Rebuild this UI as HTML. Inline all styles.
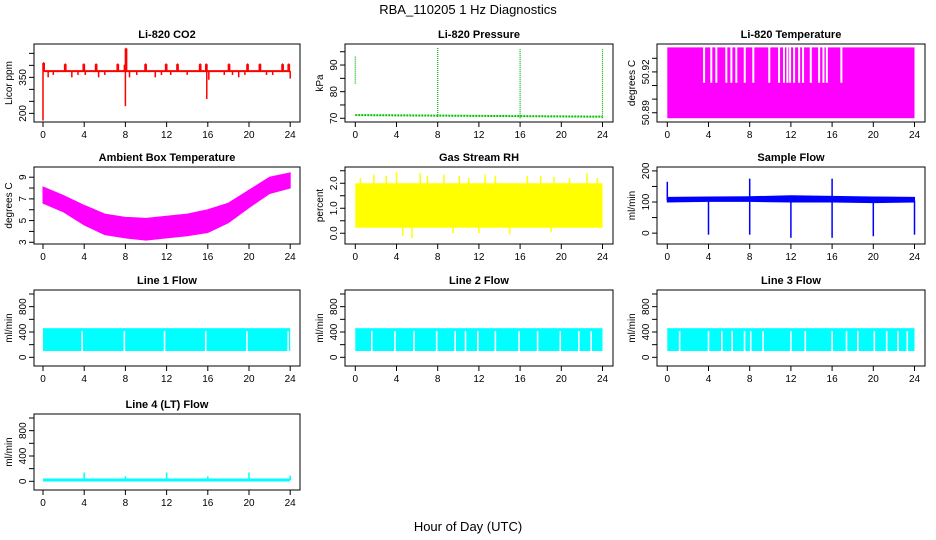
<!DOCTYPE html>
<html><head><meta charset="utf-8"><style>
body{margin:0;background:#fff}
svg{display:block;font-family:"Liberation Sans",sans-serif}
</style></head><body>
<svg id="c" width="936" height="540" viewBox="0 0 936 540">
<text x="468" y="14" text-anchor="middle" font-size="13">RBA_110205  1 Hz Diagnostics</text>
<text x="468" y="531" text-anchor="middle" font-size="13">Hour of Day (UTC)</text>
</svg>
<script>
const xTicks=[0,4,8,12,16,20,24];
const co2Ticks=[200,250,300,350,400,450];
const co2Labels=["200","","","350","",""];
const co2Base=376;
const co2Up=[[0,410],[2.1,405],[3.9,405],[5.1,405],[7.2,405],[7.9,402],[9.9,405],[11.9,405],[13.0,405],[15.2,405],[15.8,405],[18.0,405],[19.8,405],[21.0,405],[23.2,405],[23.8,405],[8,470]];
const co2Down=[[0,170],[0.5,350],[1.0,360],[2.8,350],[3.4,360],[4.1,360],[5.4,350],[6.0,360],[8.0,230],[8.4,350],[9.1,360],[10.9,350],[11.5,360],[12.4,360],[14.0,360],[15.9,260],[16.1,340],[17.6,360],[18.4,360],[19.0,350],[19.6,360],[21.7,360],[22.3,360],[24,345]];
const presTicks=[70,75,80,85,90,95];
const presLabels=["70","","80","","90",""];
const presHours=[0,4,8,12,16,20,24];
const presBase=[71.2,71.1,71.0,70.9,70.8,70.7,70.6];
const presSpikes=[[0,83,93.5],[8,70.5,96.5],[16,70,96],[24,70,96]];
const ltTicks=[50.89,50.90,50.91,50.92,50.93];
const ltLabels=["50.89","","","50.92",""];
const ltLow=50.886, ltHigh=50.938, ltGapLow=50.912;
const ltGaps=[3.57,4.27,4.76,5.73,6.22,6.7,7.52,8.35,9.9,10.85,11.33,11.66,11.92,12.31,12.8,13.18,13.93,14.74,15.16,15.49,16.9];
const ambTicks=[3,4,5,6,7,8,9];
const ambLabels=["3","","5","","7","","9"];
const ambHours=[0,2,4,6,8,10,12,14,16,18,20,22,24];
const ambLo=[6.6,5.8,4.6,3.7,3.4,3.2,3.4,3.6,3.9,4.8,6.2,7.5,8.0];
const ambHi=[8.1,7.3,6.4,5.6,5.3,5.2,5.4,5.6,6.0,6.6,7.8,9.0,9.4];
const rhTicks=[0,0.5,1,1.5,2,2.5];
const rhLabels=["0.0","","1.0","","2.0",""];
const rhLo=0.22, rhHi=2.0;
const rhSpikes=[[0.5,2.2],[1.8,2.35],[3.0,2.3],[4.0,2.45],[5.5,-0.2],[6.3,2.4],[7.0,2.3],[8.6,2.35],[10.1,2.3],[11.0,2.2],[12.6,2.35],[13.6,2.3],[15.0,-0.05],[16.7,2.3],[18.0,2.3],[19.3,2.25],[20.8,2.2],[22.5,2.4],[23.5,2.2],[4.6,-0.1],[9.5,0.0],[12.0,0.0],[19.0,0.05]];
const sfTicks=[0,50,100,150,200];
const sfLabels=["0","","100","","200"];
const sfHours=[0,4,8,12,16,20,24];
const sfLo=[100,102,102,100,100,98,100];
const sfHi=[115,116,117,120,118,116,115];
const sfDips=[[4,-5],[8,-5],[12,-15],[16,-15],[20,-10],[24,-5]];
const sfPeaks=[[0,165],[8,175],[16,175]];
const flTicks=[0,200,400,600,800,1000];
const flLabels=["0","","400","","800",""];
const l1Lo=100,l1Hi=460;
const l1Gaps=[3.8,7.9,11.8,15.8,19.8,23.8];
const l2Gaps=[1.6,3.85,5.7,7.9,9.7,10.7,11.9,13.6,15.9,17.7,19.9,21.7,22.9];
const l3Gaps=[1.2,4.0,5.3,6.3,7.5,8.1,9.3,12.0,13.4,16.0,17.4,18.5,20.1,21.3,22.4,23.3];
const l4Base=20;
const l4Spikes=[[4,140],[8,80],[12,140],[16,80],[20,140],[24,90]];

const svg=document.getElementById('c');
const NS='http://www.w3.org/2000/svg';
function el(tag,attrs,parent){const e=document.createElementNS(NS,tag);for(const k in attrs)e.setAttribute(k,attrs[k]);(parent||svg).appendChild(e);return e;}
const colL=[34,345,657],colR=[300,613,925],colX0=[43,355.3,667.3];
const rowT=[44,167,290,414],rowB=[122,244,366,490];
function panel(name,title,ylab,col,row,ymin,ymax,ticks,labels){
  const g=el('g',{});
  
  
  const L=colL[col],R=colR[col],T=rowT[row],B=rowB[row];
  const sx=h=>colX0[col]+h*10.3;
  const sy=v=>B-(v-ymin)/(ymax-ymin)*(B-T);
  const plot=el('g',{},g);
  
  
  const t=el('text',{x:(L+R)/2,y:T-6,'text-anchor':'middle','font-size':11,'font-weight':'bold'},g);t.textContent=title;
  
  
  const yl=el('text',{transform:`translate(${L-22},${(T+B)/2}) rotate(-90)`,'text-anchor':'middle','font-size':10},g);yl.textContent=ylab;
  
  
  el('line',{x1:sx(0),x2:sx(24),y1:B,y2:B,stroke:'#000'},g);
  xTicks.forEach(h=>{el('line',{x1:sx(h),x2:sx(h),y1:B,y2:B+5,stroke:'#000'},g);
    const tx=el('text',{x:sx(h),y:B+16,'text-anchor':'middle','font-size':10},g);tx.textContent=h;
    
    });
  el('line',{x1:L,x2:L,y1:sy(ticks[0]),y2:sy(ticks[ticks.length-1]),stroke:'#000'},g);
  ticks.forEach((v,i)=>{const y=sy(v);el('line',{x1:L-5,x2:L,y1:y,y2:y,stroke:'#000'},g);
    if(labels[i]){const ty=el('text',{transform:`translate(${L-8},${y}) rotate(-90)`,'text-anchor':'middle','font-size':10},g);ty.textContent=labels[i];
    
    }});
  return {g:plot,sx,sy,box:[L,T,R,B],outer:g};
}
function finish(p){const[L,T,R,B]=p.box;el('rect',{x:L,y:T,width:R-L,height:B-T,fill:'none',stroke:'#000'},p.outer);}
function vline(p,h,a,b,c,w,extra){const e=el('line',Object.assign({x1:p.sx(h),x2:p.sx(h),y1:p.sy(a),y2:p.sy(b),stroke:c,'stroke-width':w||1.5},extra||{}),p.g);return e;}
function band(p,hours,lo,hi,c){let pts=hours.map((h,i)=>p.sx(h)+','+p.sy(hi[i]));pts=pts.concat(hours.map((h,i)=>p.sx(h)+','+p.sy(lo[i])).reverse());el('polygon',{points:pts.join(' '),fill:c,stroke:c,'stroke-width':1},p.g);}

// CO2
let p=panel('co2-panel','Li-820 CO2','Licor ppm',0,0,164,489,co2Ticks,co2Labels);
el('line',{x1:p.sx(0),x2:p.sx(24),y1:p.sy(co2Base),y2:p.sy(co2Base),stroke:'red','stroke-width':2},p.g);
co2Up.forEach(s=>{vline(p,s[0],co2Base,s[1],'red',1.5);vline(p,s[0]+0.12,co2Base,s[1],'red',1.5);el('line',{x1:p.sx(s[0]),x2:p.sx(s[0]+0.12),y1:p.sy(s[1]),y2:p.sy(s[1]),stroke:'red','stroke-width':1.5},p.g);});
co2Down.forEach(s=>{vline(p,s[0],co2Base,s[1],'red',1.5);});
finish(p);

// Pressure
p=panel('pressure-panel','Li-820 Pressure','kPa',1,0,68.6,97.9,presTicks,presLabels);
el('polyline',{points:presHours.map((h,i)=>p.sx(h)+','+p.sy(presBase[i])).join(' '),fill:'none',stroke:'#00c000','stroke-width':2,'stroke-dasharray':'2,1'},p.g);
presSpikes.forEach(s=>vline(p,s[0],s[1],s[2],'#00b000',1.2,{'stroke-dasharray':'1,1'}));
finish(p);

// Li-820 temperature
p=panel('li820-temp-panel','Li-820 Temperature','degrees C',2,0,50.8832,50.9405,ltTicks,ltLabels);
el('rect',{x:p.sx(0),y:p.sy(ltHigh),width:p.sx(24)-p.sx(0),height:p.sy(ltLow)-p.sy(ltHigh),fill:'#ff00ff'},p.g);
ltGaps.forEach(h=>el('rect',{x:p.sx(h)-1,y:p.sy(ltHigh)-1,width:2,height:p.sy(ltGapLow)-p.sy(ltHigh)+1,fill:'#fff'},p.g));
finish(p);

// Ambient
p=panel('ambient-temp-panel','Ambient Box Temperature','degrees C',0,1,2.84,9.94,ambTicks,ambLabels);
band(p,ambHours,ambLo,ambHi,'#ff00ff');
finish(p);

// RH
p=panel('rh-panel','Gas Stream RH','percent',1,1,-0.43,2.65,rhTicks,rhLabels);
el('rect',{x:p.sx(0),y:p.sy(rhHi),width:p.sx(24)-p.sx(0),height:p.sy(rhLo)-p.sy(rhHi),fill:'#ffff00'},p.g);
rhSpikes.forEach(s=>vline(p,s[0],1,s[1],'#ffff00',1.5));
finish(p);

// Sample flow
p=panel('sample-flow-panel','Sample Flow','ml/min',2,1,-34.9,212.5,sfTicks,sfLabels);
band(p,sfHours,sfLo,sfHi,'#0000ff');
sfDips.forEach(s=>vline(p,s[0],105,s[1],'#0000ff',1.5));
sfPeaks.forEach(s=>vline(p,s[0],105,s[1],'#0000ff',1.5));
finish(p);

// Flow lines
function flow(name,title,col,row,gaps){
  const q=panel(name,title,'ml/min',col,row,-137,1063,flTicks,flLabels);
  el('rect',{x:q.sx(0),y:q.sy(l1Hi),width:q.sx(24)-q.sx(0),height:q.sy(l1Lo)-q.sy(l1Hi),fill:'#00ffff'},q.g);
  gaps.forEach(h=>el('rect',{x:q.sx(h)-0.8,y:q.sy(l1Hi)+3,width:1.6,height:q.sy(l1Lo)-q.sy(l1Hi)-3,fill:'#fff'},q.g));
  finish(q);return q;
}
flow('line1-flow-panel','Line 1 Flow',0,2,l1Gaps);
flow('line2-flow-panel','Line 2 Flow',1,2,l2Gaps);
flow('line3-flow-panel','Line 3 Flow',2,2,l3Gaps);
p=panel('line4-flow-panel','Line 4 (LT) Flow','ml/min',0,3,-137,1063,flTicks,flLabels);
el('line',{x1:p.sx(0),x2:p.sx(24),y1:p.sy(l4Base),y2:p.sy(l4Base),stroke:'#00ffff','stroke-width':3},p.g);
l4Spikes.forEach(s=>vline(p,s[0],l4Base,s[1],'#00ffff',1.5));
finish(p);
</script>
</body></html>
